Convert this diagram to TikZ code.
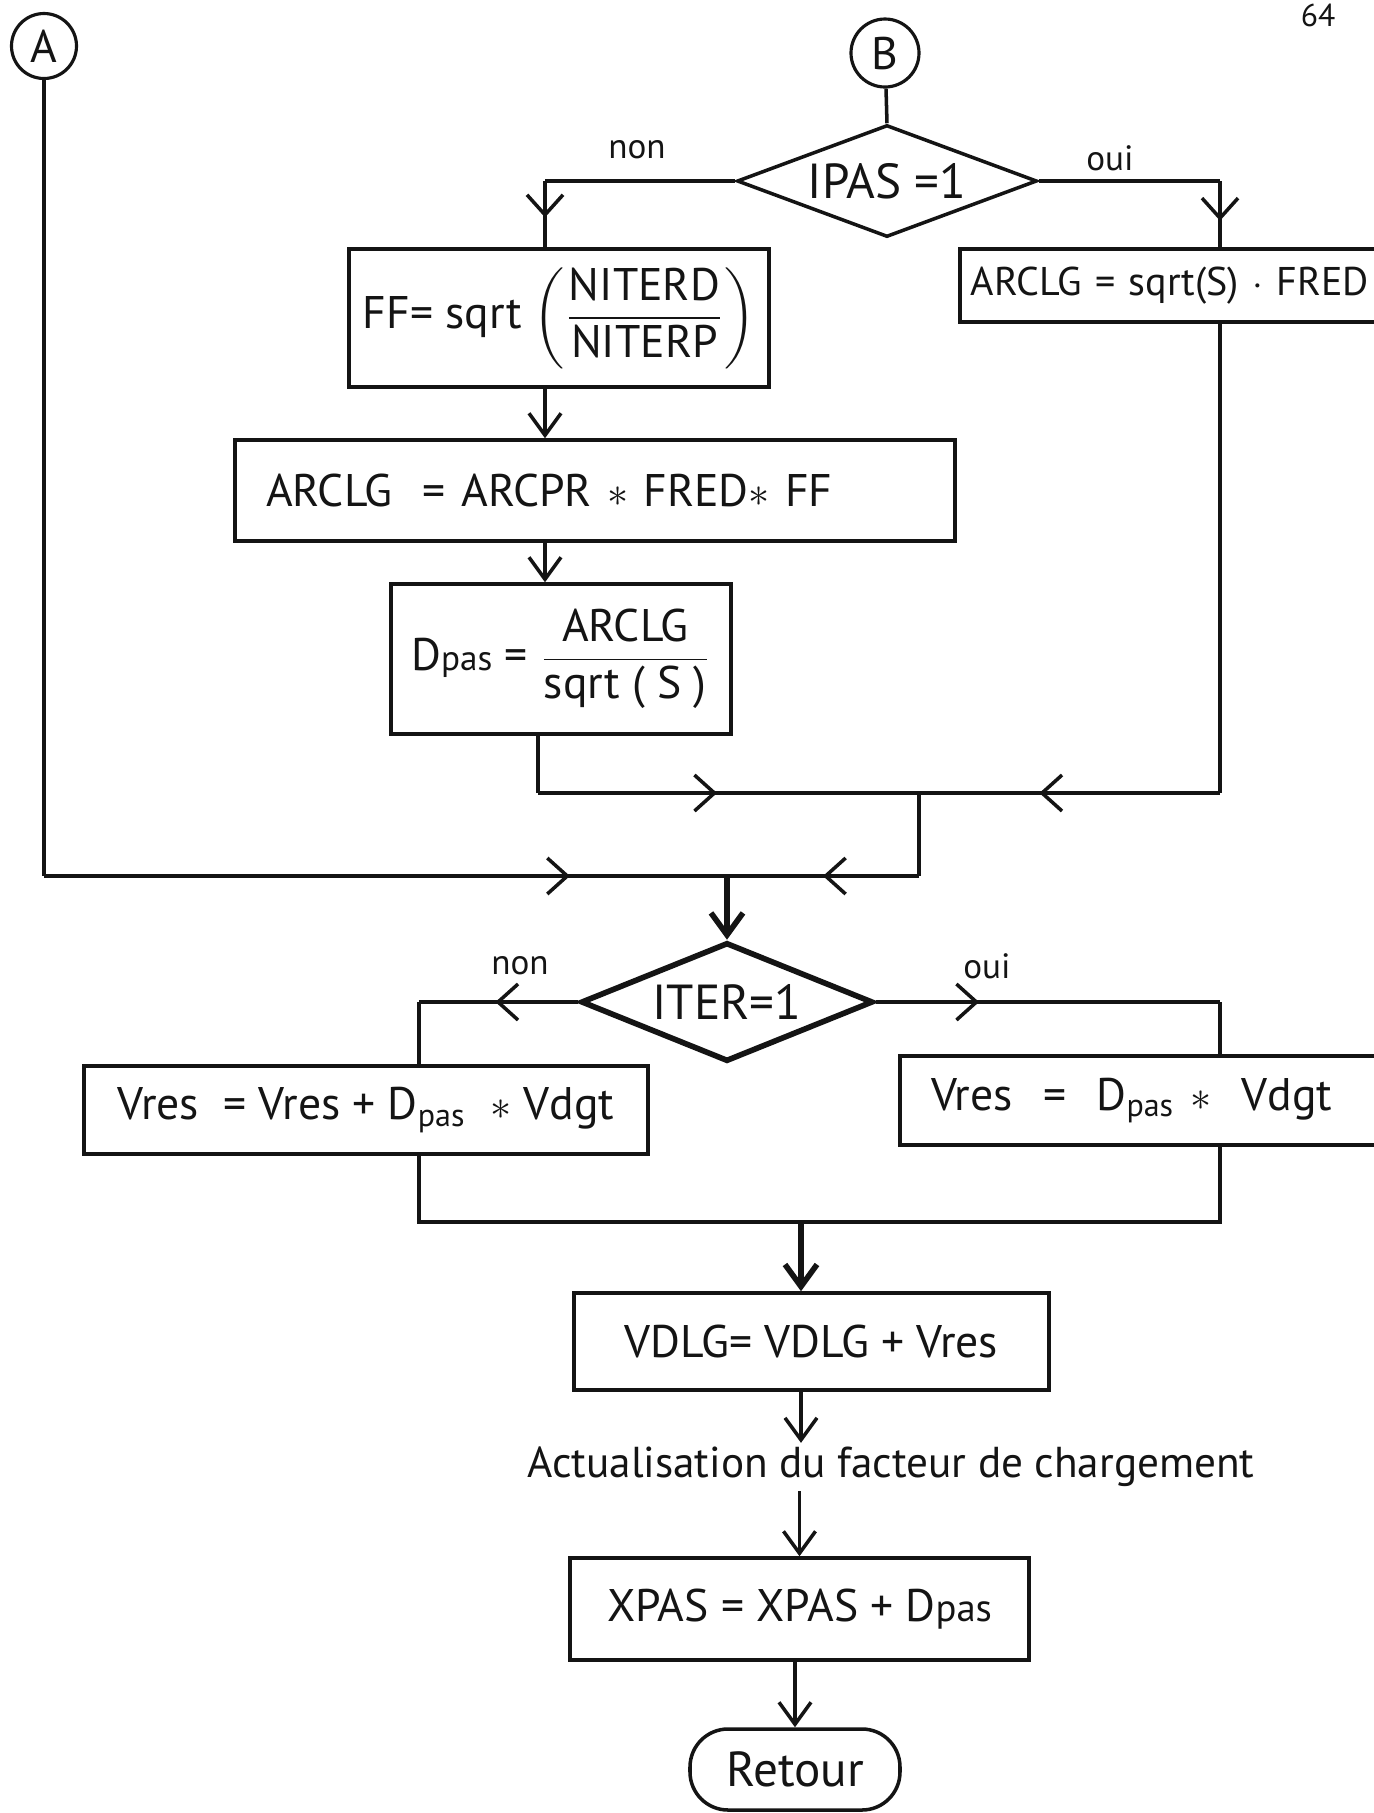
\documentclass[tikz,border=0pt]{standalone}
\usepackage{amsmath}
\usepackage{fontspec}
\setmainfont{PT Sans}
\usepackage{tikz}
\usetikzlibrary{arrows.meta,positioning,shapes.geometric,decorations.markings}
\definecolor{ink}{HTML}{141414}
\tikzset{
  box/.style={draw=ink, line width=1pt, align=center, inner sep=0pt, text=ink,
              font=\fontsize{13}{15}\selectfont},
  cond/.style={draw=ink, diamond, line width=1pt, inner sep=0pt, text=ink,
               font=\fontsize{14}{16}\selectfont},
  conn/.style={draw=ink, circle, line width=0.9pt, inner sep=0pt, text=ink,
               font=\fontsize{13}{15}\selectfont},
  wire/.style={draw=ink, line width=1pt},
  flow/.style={wire, -{Straight Barb[length=2.2mm, width=3.2mm]}},
  markat/.style={wire, postaction={decorate}, decoration={markings,
                 mark=at position #1 with {\arrow{Straight Barb[length=2mm, width=3.6mm]}}}},
  tag/.style={font=\fontsize{10}{12}\selectfont, text=ink},
}

\begin{document}
\begin{tikzpicture}[x=0.1mm, y=-0.1mm]
        \useasboundingbox (0,0) rectangle (1374,1813);
        \clip (0,0) rectangle (1374,1813);
        \fill[white] (0,0) rectangle (1374,1813);
        \node[font=\fontsize{9}{11}\selectfont, text=ink, anchor=north, inner sep=1pt] (folio) at (1318,0) {64};
        % connecteurs et tests
        \node[conn, minimum size=6.5mm] (cona) at (44,46) {A};
        \node[conn, minimum size=6.8mm] (conb) at (885,53) {B};
        \node[cond, aspect=2.6, minimum width=30mm, minimum height=11.2mm] (ipas) at (887,181) {IPAS =1};
        \node[tag] (non1) at (637,150) {non};
        \node[tag] (oui1) at (1110,158) {oui};
        \node[box, minimum width=42mm, minimum height=13.8mm] (ff) at (559,318)
          {FF= sqrt $\left(\dfrac{\text{NITERD}}{\text{NITERP}}\right)$};
        \node[box, anchor=west, minimum height=7.3mm, text width=60mm, inner xsep=1.1mm, align=left,
              font=\fontsize{11.4}{14}\selectfont] (arclgs) at (958,285.5)
          {ARCLG = sqrt(S) $\cdot$ FRED};
        \node[box, minimum height=10.1mm, text width=65.8mm, inner xsep=3.1mm, align=left] (arclg) at (595,490.5)
          {ARCLG \ = ARCPR $\ast$ FRED$\ast$ FF};
        \node[box, minimum width=34mm, minimum height=15mm] (dpas) at (561,659)
          {D{\fontsize{10}{12}\selectfont pas} = $\dfrac{\text{ARCLG}}{\text{sqrt ( S )}}$};
        \node[cond, aspect=2.45, minimum width=29.2mm, minimum height=11.9mm, line width=1.6pt] (iter) at (727,1002) {ITER=1};
        \node[tag] (non2) at (520,966) {non};
        \node[tag] (oui2) at (987,966) {oui};
        \node[box, minimum width=56.4mm, minimum height=8.8mm] (vl) at (366,1110)
          {Vres \ = Vres + D\textsubscript{pas} \ $\ast$ Vdgt};
        \node[box, minimum height=8.9mm, text width=45.8mm, inner xsep=3.1mm, align=left] (vr) at (1160,1100.5)
          {Vres \ = \ D\textsubscript{pas} $\ast$ \ Vdgt};
        \node[box, minimum width=47.5mm, minimum height=9.7mm] (vdlg) at (811.5,1341.5) {VDLG= VDLG + Vres};
        \node[font=\fontsize{12.3}{15}\selectfont, text=ink, inner sep=1pt] (act) at (891,1467)
          {Actualisation du facteur de chargement};
        \node[box, minimum width=45.9mm, minimum height=10.2mm] (xpas) at (799.5,1609)
          {XPAS = XPAS + D{\fontsize{11}{13}\selectfont pas}};
        \node[box, rounded corners=3.8mm, minimum width=21mm, minimum height=8.1mm,
              font=\fontsize{14}{16}\selectfont] (retour) at (795,1769.5) {Retour};
        % points de passage
        \coordinate (nonb) at (545,181);
        \coordinate (ouib) at (1220,181);
        \coordinate (dpasb) at (538,793);
        \coordinate (rb) at (1220,793);
        \coordinate (j1) at (919,793);
        \coordinate (ja) at (44,876);
        \coordinate (jm) at (727,876);
        \coordinate (jr) at (919,876);
        \coordinate (itl) at (419,1002);
        \coordinate (itr) at (1220,1002);
        \coordinate (ml) at (419,1222);
        \coordinate (mr) at (1220,1222);
        \coordinate (mm) at (801,1222);
        % liaisons
        \draw[wire] (conb) -- (ipas.north);
        \draw[wire] (ipas.west) -- (nonb);
        \draw[markat=0.55] (nonb) -- (nonb |- ff.north);
        \draw[wire] (ipas.east) -- (ouib);
        \draw[markat=0.6] (ouib) -- (ouib |- arclgs.north);
        \draw[flow] (ff.south -| nonb) -- (arclg.north -| nonb);
        \draw[flow] (arclg.south -| nonb) -- (dpas.north -| nonb);
        \draw[wire] (dpas.south -| dpasb) -- (dpasb);
        \draw[markat=0.47] (dpasb) -- (j1);
        \draw[wire] (arclgs.south -| rb) -- (rb);
        \draw[markat=0.6] (rb) -- (j1);
        \draw[wire] (cona) -- (ja);
        \draw[markat=0.77] (ja) -- (jm);
        \draw[wire] (j1) -- (jr);
        \draw[markat=0.5] (jr) -- (jm);
        \draw[flow, line width=1.6pt] (jm) -- (iter.north);
        \draw[markat=0.52] (iter.west) -- (itl);
        \draw[wire] (itl) -- (itl |- vl.north);
        \draw[markat=0.3] (iter.east) -- (itr);
        \draw[wire] (itr) -- (itr |- vr.north);
        \draw[wire] (vl.south -| ml) -- (ml) -- (mr) -- (vr.south -| mr);
        \draw[flow, line width=1.6pt] (mm) -- (vdlg.north -| mm);
        \draw[flow] (vdlg.south -| mm) -- (act.north -| mm);
        \draw[flow] (act.south -| xpas.north) -- (xpas.north);
        \draw[flow] (xpas.south -| retour.north) -- (retour.north);
\end{tikzpicture}
\end{document}
